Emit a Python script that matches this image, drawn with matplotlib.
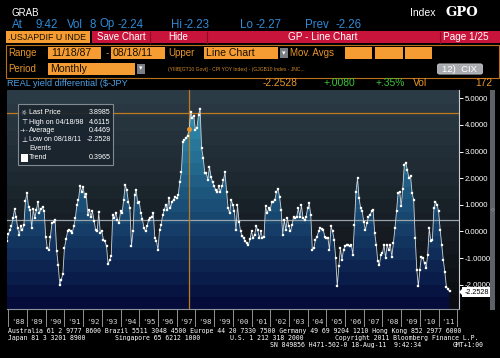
import numpy as np
import pandas as pd
import matplotlib
matplotlib.use("Agg")
import matplotlib.pyplot as plt
from matplotlib.patches import Rectangle, PathPatch, FancyBboxPatch, Polygon
from matplotlib.colors import to_rgb

# monthly REAL yield differential ($-JPY), Nov 1987 .. Aug 2011
values = [
    -0.5, -0.34, -0.1, 0.05, 0.19, 0.5, 0.84, 0.56, 0.13, -0.12, 0.21, 0.06,
    0.25, 1.16, 1.44, 0.9, 0.81, 0.13, 0.84, 0.5, 0.8, 1.12, 0.69, 0.85,
    0.91, 0.75, -0.19, -0.62, -0.69, -0.19, 0.31, 0.35, 0.44, -0.72, -1.25, -2.0,
    -1.81, -1.58, -0.62, -0.3, 0.0, 0.06, 0.0, -0.06, 0.2, 0.5, 1.0, 1.19,
    1.69, 1.5, 1.66, 1.31, 1.41, 0.62, 0.81, 0.56, 0.75, 0.4, 0.06, 0.0,
    0.73, -0.06, 0.0, -0.31, -0.37, -0.56, -1.22, -1.06, -0.91, 0.62, 0.5, 0.69,
    0.44, 0.31, 0.75, 0.69, 1.2, 1.75, 1.54, 1.12, 0.87, -0.54, 0.0, 1.37,
    1.56, 1.06, 1.12, 0.69, 0.46, 0.13, 0.0, 0.2, 0.44, 0.5, 0.56, 0.69,
    -0.25, -0.34, -0.69, 0.06, 0.25, 0.62, 0.8, 1.0, 0.81, 1.25, 0.87, 1.12,
    1.2, 1.31, 1.25, 1.37, 1.87, 2.22, 3.37, 3.43, 3.5, 3.6, 3.83, 4.49,
    4.27, 4.34, 3.81, 3.9, 4.37, 4.6115, 3.12, 2.77, 2.21, 2.19, 1.94, 2.43,
    2.06, 1.85, 1.7, 1.56, 1.5, 1.69, 1.5, 1.69, 1.94, 2.22, 1.5, 0.87,
    0.69, 1.19, 1.0, 0.75, 0.06, 1.0, 0.37, 0.0, -0.16, -0.25, -0.37, -0.44,
    -0.5, -0.3, 0.0, -0.25, -0.12, 0.19, 0.06, -0.25, 0.0, -0.25, -0.19, 0.94,
    0.69, 0.87, 0.81, 1.12, 1.12, 1.19, 1.5, 1.59, 1.3, 0.81, -0.12, 0.44,
    0.06, 0.5, 0.19, 0.0, 0.25, 0.56, 0.5, 0.56, 0.87, 0.56, 1.0, 0.5,
    0.44, 0.56, 0.87, 1.06, 0.62, -0.69, -0.62, -0.31, -0.19, 0.0, 0.13, 0.1,
    0.06, -0.19, -0.25, -0.25, -0.69, 0.19, 0.0, -0.31, -1.0, -2.06, -1.31, -0.62,
    -1.06, -0.69, -0.56, -0.5, -0.52, -0.56, -0.5, -0.87, 0.25, 1.5, 2.0, 1.25,
    0.87, 0.75, 0.37, 0.06, 0.3, 0.56, 0.62, 0.75, 0.81, -0.06, -0.5, -1.12,
    -1.25, -0.87, -0.81, -0.5, -1.0, -0.5, -0.7, -0.5, -0.94, -0.44, 0.13, 0.75,
    1.44, 1.5, 0.94, 1.59, 2.5, 2.58, 2.3, 2.0, 2.09, 1.44, 1.19, -0.25,
    -1.43, -2.06, -1.43, -0.94, -1.0, -1.2, -1.37, -0.87, 0.13, -0.37, -0.31, 0.87,
    1.12, 1.0, 0.75, 0.06, -0.5, -1.06, -1.53, -2.08, -2.16, -2.2528,
]
dates = pd.date_range("1987-11-01", periods=len(values), freq="MS")
t = np.asarray(dates.year + (dates.month - 1) / 12.0)

year_edges = list(range(1988, 2013))
year_labels = ["'%02d" % (y % 100) for y in range(1988, 2012)]
y_ticks = [5, 4, 3, 2, 1, 0, -1, -2]

last_price = 3.8985
high_val = 4.6115
average = 0.4469
low_val = -2.2528
trend = 0.3965
cursor_idx = 118
cursor_level = 4.43

W, H = 500, 358
fig = plt.figure(figsize=(W / 100, H / 100), dpi=100, facecolor="black")

SANS = "Liberation Sans"
MONO = "DejaVu Sans Mono"
ORANGE = "#f59d32"
ORANGE_TXT = "#e8952a"
BLUE = "#2e8ad8"
GREEN = "#3cc43c"

# ---- main plot
xlo, xhi = 1987.93, 2012.09
ylo, yhi = -2.91, 5.31
ax = fig.add_axes([7 / W, 1 - 309 / H, (459 - 7) / W, (309 - 90) / H])
ax.set_facecolor("black")


def bands(c_top, c_bot, n):
    a = np.array(to_rgb(c_top))
    b = np.array(to_rgb(c_bot))
    f = np.linspace(0, 1, n)[:, None]
    return (a * (1 - f) + b * f)[:, None, :]


ax.imshow(bands("#2b3b46", "#0a0c0f", 16), extent=[xlo, xhi, ylo, yhi],
          aspect="auto", interpolation="nearest", zorder=0)

poly = ax.fill_between(t, values, ylo, facecolor="none", edgecolor="none")
clip = PathPatch(poly.get_paths()[0], transform=ax.transData,
                 facecolor="none", edgecolor="none")
ax.add_patch(clip)
fill_im = ax.imshow(bands("#3399ba", "#050c3a", 18), extent=[xlo, xhi, ylo, yhi],
                    aspect="auto", interpolation="nearest", zorder=1)
fill_im.set_clip_path(clip)

ax.axhline(average, color="#9aa3aa", lw=0.9, zorder=3)
ax.axhline(cursor_level, color="#c07a1a", lw=0.9, zorder=3)
ax.axvline(t[cursor_idx], color="#c07a1a", lw=0.9, zorder=3)
ax.plot(t, values, color="#ccd5dc", lw=0.6, marker="s", ms=1.6,
        mfc="white", mec="white", mew=0.2, zorder=4)
ax.plot(t[cursor_idx], values[cursor_idx], "o", color="#e8902a", ms=2.6, zorder=5)

ax.set_xlim(xlo, xhi)
ax.set_ylim(ylo, yhi)
ax.set_xticks([])
ax.yaxis.tick_right()
ax.set_yticks(y_ticks)
ax.set_yticklabels(["%.4f" % v for v in y_ticks])
ax.tick_params(axis="y", direction="out", length=3, width=0.7, color="white",
               labelcolor="white", labelsize=5.6, pad=1)
for lab in ax.get_yticklabels():
    lab.set_family(SANS)
for side in ["top", "left"]:
    ax.spines[side].set_visible(False)
ax.spines["right"].set_color("#c8ccd0")
ax.spines["right"].set_linewidth(0.8)
ax.spines["bottom"].set_color("#8c9298")
ax.spines["bottom"].set_linewidth(0.8)

# ---- year band under the plot
band = fig.add_axes([7 / W, 1 - 327 / H, (459 - 7) / W, 18 / H], facecolor="black")
band.set_xlim(xlo, xhi)
band.set_ylim(0, 1)
band.vlines(year_edges, 0, 1, color="#8c9298", lw=0.7)
for y, lab in zip(range(1988, 2012), year_labels):
    band.text(y + 0.5, 0.25, lab, color="#d8d8d8", fontsize=5.4, family=MONO,
              ha="center", va="center")
band.axis("off")

# ---- overlay in pixel coordinates
ov = fig.add_axes([0, 0, 1, 1])
ov.set_xlim(0, W)
ov.set_ylim(H, 0)
ov.axis("off")


def txt(x, y, s, color="white", size=7, ha="left", family=SANS, **kw):
    ov.text(x, y, s, color=color, fontsize=size, ha=ha, va="center", family=family, **kw)


def box(x0, y0, x1, y1, fc, ec="none", lw=0):
    ov.add_patch(Rectangle((x0, y0), x1 - x0, y1 - y0, facecolor=fc, edgecolor=ec, lw=lw))


txt(12, 12.5, "GRAB", size=7)
txt(410, 12.5, "Index", size=7.5)
txt(446, 12.5, "GPO", size=9.5, weight="bold", family="DejaVu Serif")

status = [(12, "At"), (35, "9:42"), (67, "Vol"), (89, "8"), (99, "Op"), (117, "-2.24"),
          (171, "Hi"), (183, "-2.23"), (240, "Lo"), (256, "-2.27"), (305, "Prev"), (336, "-2.26")]
for x, s in status:
    txt(x, 24.5, s, color=BLUE, size=8.3)

# red title bar
box(6, 31.3, 90, 43.3, ORANGE)
txt(8, 37.5, ".USJAPDIF U INDE", color="#1a0f00", size=6.4)
box(92, 31.3, 500, 43.3, "#c8143a")
for x in [150, 207, 440]:
    ov.plot([x, x], [31.5, 43.1], color="#8a0c24", lw=0.8)
txt(121, 37.5, "Save Chart", size=7, ha="center")
txt(178, 37.5, "Hide", size=7, ha="center")
txt(323, 37.5, "GP - Line Chart", size=7.2, ha="center")
txt(466, 37.5, "Page 1/25", size=7.2, ha="center")

# settings panel
ov.add_patch(Rectangle((6, 45), 493, 33, facecolor="none", edgecolor="#b8701c", lw=0.8))
txt(8, 53, "Range", color=ORANGE_TXT, size=7)
box(48, 47, 101, 58.5, ORANGE)
txt(51, 53, "11/18/87", color="#1a0f00", size=7.6)
txt(106, 53, "-", color=ORANGE_TXT, size=7)
box(111, 47, 165, 58.5, ORANGE)
txt(113, 53, "08/18/11", color="#1a0f00", size=7.6)
txt(168, 53, "Upper", color=ORANGE_TXT, size=7)
box(204, 47, 278, 58.5, ORANGE)
txt(206, 53, "Line Chart", color="#1a0f00", size=7.6)
box(279.5, 47.5, 287.5, 58, "#7a7e84")
txt(283.5, 53, "▾", size=5, ha="center", family="DejaVu Sans")
txt(290, 53, "Mov. Avgs", color=ORANGE_TXT, size=7)
for x0, x1 in [(345, 372), (375, 403), (405, 432)]:
    box(x0, 47, x1, 58.5, ORANGE)

txt(8, 68.5, "Period", color=ORANGE_TXT, size=7)
box(48, 63, 135, 74.5, ORANGE)
txt(50, 68.5, "Monthly", color="#1a0f00", size=7.6)
box(137, 63.5, 145, 74, "#7a7e84")
txt(141, 68.5, "▾", size=5, ha="center", family="DejaVu Sans")
txt(168, 69.5, "(YIIIB[GT10 Govt] - CPI YOY Index) - (GJGB10 Index - JNC...",
    color="#d08a2a", size=3.6)
ov.add_patch(FancyBboxPatch((438, 64.5), 44, 9, boxstyle="round,pad=0.6,rounding_size=2",
                            facecolor="#a8acb0", edgecolor="#d0d4d8", lw=0.5))
txt(460, 69, "12)  CIX", size=6.8, ha="center")

# security line
txt(7, 83, "REAL yield differential ($-JPY", color="#4fa0e4", size=6.6)
txt(263, 83, "%.4f" % low_val, color=ORANGE_TXT, size=7.4)
txt(323, 83, "+.0080", color=GREEN, size=7.4)
txt(375, 83, "+.35%", color=GREEN, size=7.4)
txt(413, 83, "Vol", color=ORANGE_TXT, size=7.4)
txt(492, 83, "172", color=ORANGE_TXT, size=7.4, ha="right")

# legend box
ov.add_patch(Rectangle((18, 104), 95, 61, facecolor="#1a252e", edgecolor="#8a929a",
                       lw=0.8, alpha=0.92))
rows = [("☼", "Last Price", "%.4f" % last_price),
        ("⊤", "High on 04/18/98", "%.4f" % high_val),
        ("-+-", "Average", "%.4f" % average),
        ("⊥", "Low on 08/18/11", "%.4f" % low_val),
        ("", "Events", ""),
        ("", "Trend", "%.4f" % trend)]
row_y = [112.7, 122, 131, 139.7, 149, 157.7]
for (icon, lab, val), y in zip(rows, row_y):
    if icon:
        txt(24, y, icon, size=5 if icon != "-+-" else 4, ha="center", family="DejaVu Sans")
    txt(29, y, lab, size=5.1)
    txt(110.5, y, val, size=5.1, ha="right")
box(20.5, 153.5, 27.5, 161.5, "white")

# last value tag on the right axis
box(462, 287, 492, 297, "white")
ov.add_patch(Polygon([(459, 292), (462, 289), (462, 295)], closed=True, facecolor="white"))
txt(477, 292, "%.4f" % low_val, color="black", size=5.2, ha="center")

# scrollbar
box(490, 90, 495, 310, "#5d6268")
txt(492.5, 209, "◇", size=3.5, ha="center", family="DejaVu Sans", color="#c0c4c8")

# footer
FS = 4.7
txt(8, 331.5, "Australia 61 2 9777 8600 Brazil 5511 3048 4500 Europe 44 20 7330 7500 "
    "Germany 49 69 9204 1210 Hong Kong 852 2977 6000", size=FS, family=MONO)
txt(8, 338.3, "Japan 81 3 3201 8900", size=FS, family=MONO)
txt(115, 338.3, "Singapore 65 6212 1000", size=FS, family=MONO)
txt(230, 338.3, "U.S. 1 212 318 2000", size=FS, family=MONO)
txt(335, 338.3, "Copyright 2011 Bloomberg Finance L.P.", size=FS, family=MONO)
txt(270, 345, "SN 849856 H471-502-0 18-Aug-11  9:42:34", size=FS, family=MONO)
txt(453, 345, "GMT+1:00", size=FS, family=MONO)

fig.savefig("out.png", dpi=100, facecolor="black")
